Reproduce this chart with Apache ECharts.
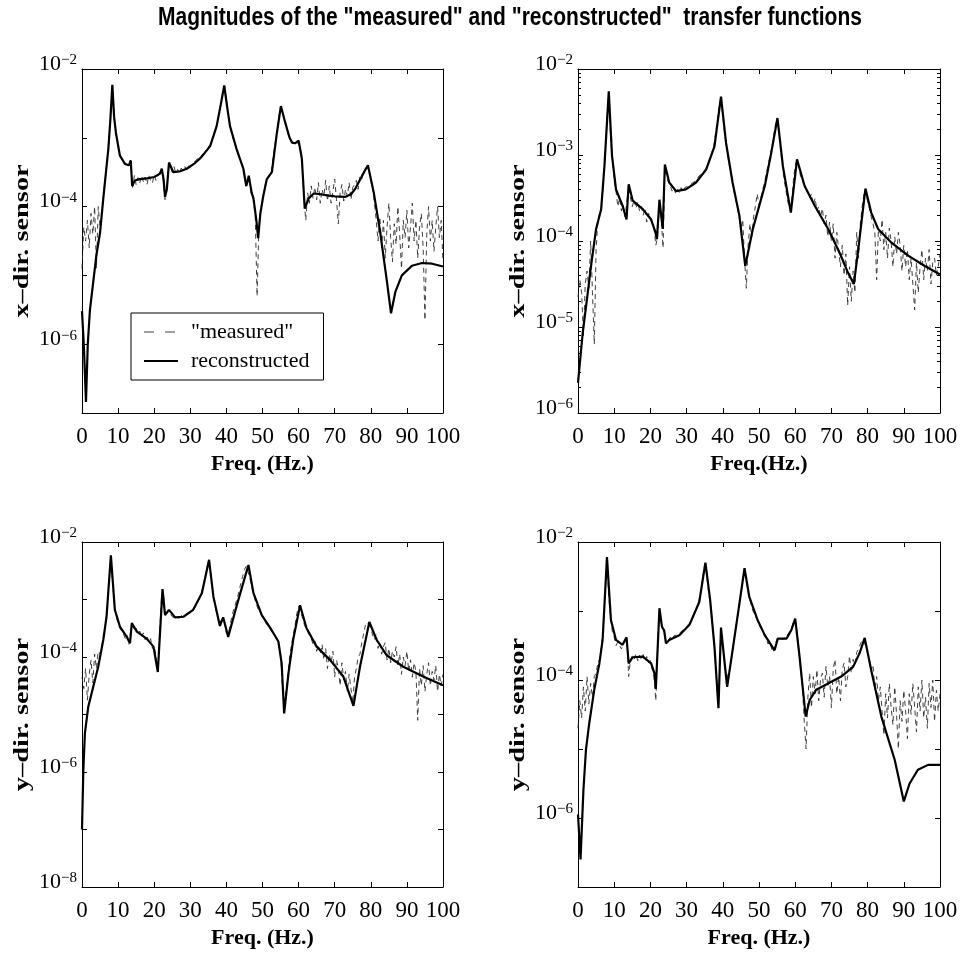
<!DOCTYPE html>
<html>
<head>
<meta charset="utf-8">
<title>Transfer functions</title>
<script src="https://cdn.jsdelivr.net/npm/echarts@6/dist/echarts.min.js"></script>
<style>
  html, body { margin: 0; padding: 0; background: #fff; }
  #chart { width: 962px; height: 959px; }
</style>
</head>
<body>
<div id="chart"></div>
<script>
'use strict';

// magnitudes are stored as log10(|H|)
// "measured" spectra: one value every 0.5 Hz from 0 to 100 Hz
var measStep = 0.5;

var measXTopLeft = [
  -4.9, -4.3, -4.5, -4.2, -4.6, -4.1, -4.4, -4.0, -4.9, -4.0, -4.3, -4.1, -3.82, -3.55, -3.3, -3.05, -2.6, -2.25, -2.75, -2.96,
  -3.12, -3.26, -3.31, -3.36, -3.38, -3.39, -3.40, -3.33, -3.72, -3.55, -3.68, -3.58, -3.66, -3.55, -3.64, -3.57, -3.68, -3.55, -3.62, -3.66,
  -3.54, -3.62, -3.56, -3.5, -3.45, -3.62, -3.9, -3.72, -3.38, -3.42, -3.5, -3.42, -3.52, -3.46, -3.5, -3.44, -3.48, -3.42, -3.46, -3.40,
  -3.43, -3.38, -3.40, -3.33, -3.34, -3.28, -3.29, -3.24, -3.22, -3.18, -3.14, -3.13, -3.03, -2.95, -2.87, -2.78, -2.65, -2.5, -2.33, -2.25,
  -2.45, -2.65, -2.83, -2.95, -3.04, -3.12, -3.2, -3.28, -3.35, -3.42, -3.55, -3.72, -3.6, -3.68, -3.85, -3.9, -4.15, -5.3, -4.3, -4.05,
  -3.9, -3.75, -3.62, -3.58, -3.52, -3.48, -3.25, -3.08, -2.92, -2.7, -2.55, -2.6, -2.72, -2.82, -2.93, -3.0, -3.06, -3.08, -3.08, -3.05,
  -3.04, -3.15, -3.4, -3.9, -4.2, -3.8, -3.95, -3.7, -3.88, -3.72, -3.9, -3.65, -3.95, -3.75, -3.85, -3.62, -3.92, -3.7, -3.95, -3.78,
  -3.6, -3.9, -4.25, -3.8, -3.68, -3.92, -3.75, -3.85, -3.65, -3.9, -3.72, -3.68, -3.62, -3.75, -3.55, -3.6, -3.5, -3.45, -3.42, -3.45,
  -3.62, -3.72, -3.95, -4.2, -4.5, -4.15, -4.6, -4.2, -4.75, -4.3, -3.95, -4.45, -4.8, -4.25, -4.55, -4.0, -4.4, -4.9, -4.2, -4.45,
  -4.05, -4.6, -4.3, -3.95, -4.5, -4.2, -4.75, -4.3, -4.1, -4.6, -5.65, -4.4, -4.0, -4.5, -4.2, -4.65, -4.3, -4.0, -4.45, -4.2, -4.8
];

var measXTopRight = [
  -4.65, -4.45, -4.6, -5.1, -4.5, -4.35, -4.55, -4.0, -4.6, -5.2, -4.1, -3.75, -3.75, -3.6, -3.35, -3.0, -2.6, -2.27, -2.8, -3.05,
  -3.3, -3.42, -3.6, -3.5, -3.65, -3.58, -3.72, -3.7, -3.36, -3.5, -3.6, -3.52, -3.62, -3.55, -3.65, -3.6, -3.7, -3.62, -3.78, -3.68,
  -3.75, -3.8, -3.85, -4.05, -3.95, -3.55, -3.75, -4.08, -3.15, -3.25, -3.32, -3.36, -3.42, -3.38, -3.45, -3.4, -3.44, -3.38, -3.43, -3.38,
  -3.4, -3.36, -3.38, -3.33, -3.34, -3.3, -3.29, -3.24, -3.25, -3.2, -3.2, -3.15, -3.1, -3.03, -2.97, -2.9, -2.75, -2.6, -2.42, -2.33,
  -2.55, -2.75, -2.9, -3.04, -3.16, -3.28, -3.4, -3.5, -3.6, -3.72, -3.88, -3.75, -4.2, -4.55, -4.05, -3.8, -3.95, -3.72, -3.6, -3.45,
  -3.58, -3.5, -3.4, -3.33, -3.22, -3.12, -3.02, -2.92, -2.8, -2.66, -2.58, -2.7, -2.95, -3.12, -3.3, -3.43, -3.55, -3.63, -3.55, -3.3,
  -3.12, -3.06, -3.15, -3.25, -3.3, -3.35, -3.4, -3.42, -3.5, -3.45, -3.58, -3.5, -3.65, -3.6, -3.72, -3.62, -3.8, -3.7, -3.95, -3.78,
  -4.0, -3.8, -4.2, -3.9, -4.1, -4.3, -4.05, -4.4, -4.15, -4.75, -4.3, -4.7, -4.35, -4.6, -3.9, -4.2, -3.8, -3.6, -3.45, -3.4,
  -3.55, -3.62, -3.72, -3.8, -3.9, -4.45, -3.85, -4.0, -3.75, -4.1, -3.9, -4.2, -3.85, -4.0, -4.3, -3.95, -4.15, -3.9, -4.05, -4.35,
  -4.05, -4.3, -4.1, -4.45, -4.2, -4.5, -4.8, -4.25, -4.6, -4.3, -4.1, -4.45, -4.2, -4.35, -4.1, -4.5, -4.25, -4.2, -4.4, -4.3, -4.15
];

var measYBottomLeft = [
  -4.35, -4.55, -4.2, -4.75, -4.3, -4.05, -4.45, -3.95, -4.2, -3.9, -3.95, -3.8, -3.65, -3.45, -3.1, -2.65, -2.25, -2.75, -3.1, -3.3,
  -3.42, -3.5, -3.55, -3.6, -3.68, -3.62, -3.78, -3.55, -3.45, -3.55, -3.5, -3.6, -3.55, -3.65, -3.58, -3.7, -3.62, -3.75, -3.68, -3.85,
  -3.8, -4.0, -4.25, -3.6, -3.0, -2.85, -3.25, -3.22, -3.2, -3.25, -3.3, -3.28, -3.33, -3.3, -3.32, -3.28, -3.3, -3.26, -3.27, -3.24,
  -3.22, -3.2, -3.16, -3.12, -3.05, -2.98, -2.9, -2.78, -2.65, -2.48, -2.33, -2.45, -2.78, -2.98, -3.15, -3.3, -3.42, -3.4, -3.32, -3.4,
  -3.58, -3.62, -3.45, -3.3, -3.18, -3.08, -2.98, -2.85, -2.72, -2.6, -2.48, -2.42, -2.42, -2.62, -2.78, -2.9, -3.02, -3.12, -3.2, -3.25,
  -3.3, -3.35, -3.42, -3.45, -3.5, -3.52, -3.6, -3.65, -3.7, -3.8, -3.95, -4.5, -4.85, -4.6, -4.35, -4.0, -3.8, -3.62, -3.45, -3.25,
  -3.12, -3.12, -3.3, -3.42, -3.5, -3.55, -3.62, -3.68, -3.78, -3.72, -3.9, -3.8, -3.95, -3.78, -4.05, -3.85, -4.2, -3.95, -4.1, -3.9,
  -4.35, -4.05, -4.2, -4.5, -4.1, -4.4, -4.25, -4.6, -4.3, -4.55, -4.8, -4.35, -4.2, -4.0, -3.95, -3.75, -3.6, -3.45, -3.4, -3.42,
  -3.5, -3.62, -3.7, -3.6, -3.85, -3.75, -3.95, -3.82, -3.75, -4.05, -3.85, -4.1, -3.9, -4.0, -3.82, -4.15, -3.95, -4.3, -4.0, -4.15,
  -3.9, -4.25, -4.05, -4.35, -4.1, -4.25, -5.1, -4.2, -4.5, -4.15, -4.6, -4.3, -4.1, -4.5, -4.25, -4.4, -4.15, -4.6, -4.3, -4.5, -4.3
];

var measYBottomRight = [
  -4.7, -4.3, -4.55, -4.1, -4.45, -3.95, -4.35, -4.05, -4.25, -3.95, -3.9, -3.75, -3.7, -3.5, -3.22, -2.75, -2.25, -2.8, -3.1, -3.3,
  -3.38, -3.5, -3.45, -3.5, -3.55, -3.48, -3.45, -3.38, -3.95, -3.7, -3.65, -3.7, -3.62, -3.72, -3.64, -3.7, -3.63, -3.72, -3.66, -3.75,
  -3.72, -3.85, -3.95, -4.3, -3.5, -2.98, -3.2, -3.26, -3.38, -3.45, -3.42, -3.38, -3.42, -3.36, -3.38, -3.34, -3.35, -3.3, -3.3, -3.25,
  -3.22, -3.2, -3.17, -3.12, -3.06, -3.0, -2.93, -2.83, -2.7, -2.5, -2.32, -2.45, -2.7, -2.88, -3.1, -3.4, -3.75, -4.2, -4.1, -3.26,
  -3.5, -3.78, -4.0, -3.99, -3.82, -3.64, -3.46, -3.27, -3.1, -2.93, -2.75, -2.56, -2.38, -2.55, -2.72, -2.84, -2.95, -3.02, -3.08, -3.12,
  -3.2, -3.24, -3.3, -3.36, -3.4, -3.48, -3.45, -3.55, -3.6, -3.48, -3.4, -3.42, -3.38, -3.42, -3.38, -3.4, -3.34, -3.3, -3.25, -3.16,
  -3.12, -3.3, -3.55, -3.85, -4.1, -4.6, -5.0, -4.25, -3.9, -4.4, -3.95, -4.2, -3.85, -4.3, -4.0, -3.9, -4.25, -3.8, -4.1, -3.95,
  -4.4, -3.85, -3.7, -4.2, -3.95, -4.3, -3.85, -3.75, -4.1, -3.95, -3.65, -3.9, -3.7, -3.78, -3.6, -3.55, -3.48, -3.42, -3.4, -3.5,
  -3.62, -3.7, -3.85, -3.78, -4.15, -3.95, -4.3, -4.1, -4.45, -4.8, -4.2, -4.55, -4.05, -4.4, -4.65, -4.1, -4.5, -5.0, -4.3, -4.6,
  -4.15, -4.45, -4.85, -4.2, -4.5, -4.05, -4.4, -4.75, -4.1, -4.45, -4.0, -4.55, -4.25, -4.7, -4.05, -4.4, -4.0, -4.6, -4.15, -4.45, -4.2
];

// reconstructed spectra: [freq (Hz), log10 magnitude]
var recXTopLeft = [
  [0, -5.52], [0.5, -6.0], [1.1, -6.84], [1.6, -6.0], [2.2, -5.5], [3.1, -5.1], [4, -4.7], [5, -4.38],
  [5.9, -3.88], [7.3, -3.16], [7.9, -2.7], [8.4, -2.23], [8.9, -2.7], [9.4, -2.93], [10.5, -3.26],
  [11.9, -3.38], [13, -3.4], [13.5, -3.33], [13.9, -3.7], [14.6, -3.62], [16, -3.6], [18, -3.59],
  [20, -3.57], [21.6, -3.52], [22.1, -3.45], [22.6, -3.6], [23, -3.86], [23.5, -3.75], [24.1, -3.36],
  [25.3, -3.5], [27, -3.49], [29, -3.45], [31, -3.38], [32.7, -3.3], [34, -3.22], [35.5, -3.12],
  [37.3, -2.83], [38.5, -2.5], [39.4, -2.24], [40.2, -2.55], [41, -2.83], [42.8, -3.16], [44.7, -3.45],
  [45.5, -3.7], [46.2, -3.55], [47, -3.8], [47.5, -3.88], [48.3, -4.2], [48.8, -4.46], [49.4, -4.1],
  [50.2, -3.85], [51.2, -3.6], [52.6, -3.5], [54, -2.92], [55.1, -2.54], [56.3, -2.78], [57.5, -3.0],
  [58.2, -3.07], [59, -3.08], [60, -3.04], [60.9, -3.3], [61.7, -4.03], [62.8, -3.88], [64.2, -3.81],
  [66, -3.82], [68.3, -3.84], [70, -3.85], [72.9, -3.86], [74.5, -3.82], [75.7, -3.74], [77.6, -3.55],
  [79.2, -3.4], [80.8, -3.79], [82.6, -4.37], [84.5, -5.1], [85.6, -5.55], [86.8, -5.24], [88.6, -5.0],
  [91.4, -4.86], [94.2, -4.82], [97, -4.83], [100, -4.87]
];

var recXTopRight = [
  [0, -5.65], [1.3, -5.07], [2.7, -4.6], [3.6, -4.29], [5, -3.86], [6.4, -3.63], [7.3, -3.13],
  [8.5, -2.26], [9.4, -3.01], [10.5, -3.4], [12.3, -3.59], [13.4, -3.75], [14, -3.34], [15.1, -3.53],
  [17.9, -3.63], [20.2, -3.75], [21.4, -3.9], [21.8, -3.98], [22.5, -3.52], [23.4, -3.86], [24, -3.11],
  [25.2, -3.32], [27.1, -3.42], [29.8, -3.4], [32.6, -3.32], [35.4, -3.17], [37.7, -2.9], [39.5, -2.32],
  [40.9, -2.86], [42.7, -3.32], [44.6, -3.71], [46.2, -4.29], [48.3, -3.86], [50, -3.6], [51.6, -3.36],
  [53.4, -2.97], [55.1, -2.57], [56.6, -3.13], [58.8, -3.67], [60.5, -3.05], [62.6, -3.36], [65.4, -3.59],
  [69.1, -3.86], [72.3, -4.14], [74.6, -4.37], [76.2, -4.5], [77.3, -4.14], [79.4, -3.39], [81, -3.67],
  [82.9, -3.86], [86.6, -4.02], [91.2, -4.17], [95.8, -4.29], [100, -4.39]
];

var recYBottomLeft = [
  [0, -7.0], [0.37, -5.97], [0.8, -5.33], [1.75, -4.86], [3.1, -4.52], [4.5, -4.17], [5.9, -3.7],
  [6.8, -3.3], [8, -2.23], [9.1, -3.18], [10.5, -3.47], [12.4, -3.65], [13.3, -3.76], [13.8, -3.41],
  [15.2, -3.56], [17.9, -3.68], [19.8, -3.82], [21, -4.26], [22.3, -2.82], [23, -3.27], [24.1, -3.18],
  [25.8, -3.31], [28.1, -3.3], [30.8, -3.18], [33.2, -2.89], [35.2, -2.31], [36.4, -2.95], [38.2, -3.46],
  [39.1, -3.31], [40.5, -3.65], [42.8, -3.12], [46.1, -2.4], [47.5, -2.89], [49.8, -3.27], [52.5, -3.53],
  [54.4, -3.73], [55.3, -4.11], [56, -4.98], [57.2, -4.28], [58.5, -3.7], [60.4, -3.1], [62.2, -3.5],
  [65, -3.82], [68.7, -4.05], [72.4, -4.34], [75.2, -4.85], [77, -4.17], [79.6, -3.39], [81.6, -3.7],
  [84.4, -3.97], [89, -4.17], [94.5, -4.34], [100, -4.49]
];

var recYBottomRight = [
  [0, -5.95], [0.7, -6.6], [1.5, -5.59], [2.2, -5.01], [3.1, -4.63], [4.5, -4.14], [5.9, -3.76],
  [6.8, -3.42], [8, -2.22], [9.1, -3.13], [10.5, -3.42], [12.3, -3.49], [13.4, -3.38], [14, -3.76],
  [15.1, -3.67], [17.9, -3.66], [20.2, -3.76], [21.1, -3.9], [21.5, -4.13], [22.5, -2.96], [23.2, -3.23],
  [23.8, -3.28], [24.3, -3.47], [25.2, -3.42], [28, -3.35], [30.8, -3.2], [33.5, -2.87], [35.2, -2.3],
  [36.5, -2.84], [37.7, -3.52], [38.8, -4.41], [39.5, -3.24], [41.2, -4.1], [42.7, -3.57], [44.6, -2.89],
  [46, -2.38], [47.3, -2.79], [49.6, -3.13], [51.6, -3.35], [54.3, -3.57], [55.2, -3.4], [57.6, -3.4],
  [58.9, -3.28], [60, -3.11], [61.2, -3.66], [62.9, -4.53], [64, -4.29], [65.8, -4.14], [69.1, -4.05],
  [72.7, -3.95], [76, -3.81], [77.8, -3.61], [79.2, -3.39], [81, -3.86], [83.8, -4.53], [87.5, -5.16],
  [90, -5.76], [91.6, -5.5], [93.9, -5.3], [96.7, -5.23], [100, -5.23]
];

// y extents as powers of ten
var yExpTopLeft = [-7, -2];
var yExpTopRight = [-6, -2];
var yExpBottomLeft = [-8, -2];
var yExpBottomRight = [-7, -2];

var freqTicks = [0, 100, 10];

var SERIF = '"Liberation Serif", "Times New Roman", serif';
var SANS = '"Liberation Sans", Arial, Helvetica, sans-serif';

var panels = [
  { meas: measXTopLeft, rec: recXTopLeft, yExp: yExpTopLeft, labelStep: 2, minor: false,
    yName: 'x\u2013dir. sensor', xName: 'Freq. (Hz.)',
    grid: { left: 82, top: 69, width: 361, height: 344 } },
  { meas: measXTopRight, rec: recXTopRight, yExp: yExpTopRight, labelStep: 1, minor: true,
    yName: 'x\u2013dir. sensor', xName: 'Freq.(Hz.)',
    grid: { left: 578, top: 69, width: 362, height: 344 } },
  { meas: measYBottomLeft, rec: recYBottomLeft, yExp: yExpBottomLeft, labelStep: 2, minor: false,
    yName: 'y\u2013dir. sensor', xName: 'Freq. (Hz.)',
    grid: { left: 82, top: 542, width: 361, height: 345 } },
  { meas: measYBottomRight, rec: recYBottomRight, yExp: yExpBottomRight, labelStep: 2, minor: false,
    yName: 'y\u2013dir. sensor', xName: 'Freq. (Hz.)',
    grid: { left: 578, top: 542, width: 362, height: 345 } }
];

var chart = echarts.init(document.getElementById('chart'));

function expLabel(step) {
  return function (v) {
    var e = Math.round(Math.log(v) / Math.LN10);
    if (e % step !== 0) {
      return '';
    }
    return '{b|10}{e|' + (e < 0 ? '\u2212' : '') + Math.abs(e) + '}';
  };
}

var axisLine = { show: true, onZero: false, lineStyle: { color: '#000', width: 1 } };
var tickIn = { show: true, inside: true, length: 5, lineStyle: { color: '#000' } };

var grids = [];
var xAxes = [];
var yAxes = [];
var series = [];
var graphics = [{
  type: 'text', x: 510, y: 18, scaleY: 1.25,
  style: {
    text: 'Magnitudes of the "measured" and "reconstructed"  transfer functions',
    font: 'bold 21px ' + SANS, fill: '#000',
    textAlign: 'center', textVerticalAlign: 'middle'
  }
}];

panels.forEach(function (p, i) {
  grids.push(p.grid);

  var xBase = {
    type: 'value', gridIndex: i,
    min: freqTicks[0], max: freqTicks[1], interval: freqTicks[2],
    axisLine: axisLine, axisTick: tickIn, splitLine: { show: false }
  };
  xAxes.push(Object.assign({}, xBase, {
    position: 'bottom',
    name: p.xName, nameLocation: 'middle', nameGap: 40,
    nameTextStyle: { fontFamily: SERIF, fontSize: 22, fontWeight: 'bold', color: '#000' },
    axisLabel: { fontFamily: SERIF, fontSize: 23, color: '#000', margin: 12 }
  }));
  xAxes.push(Object.assign({}, xBase, { position: 'top', axisLabel: { show: false } }));

  var yBase = {
    type: 'log', logBase: 10, gridIndex: i,
    min: Math.pow(10, p.yExp[0]), max: Math.pow(10, p.yExp[1]), interval: 1,
    axisLine: axisLine, axisTick: tickIn, splitLine: { show: false },
    minorTick: { show: p.minor, splitNumber: 9, length: 3, lineStyle: { color: '#000' } },
    minorSplitLine: { show: false }
  };
  yAxes.push(Object.assign({}, yBase, {
    position: 'left',
    axisLabel: {
      formatter: expLabel(p.labelStep), margin: 5, padding: [0, 0, 10, 0],
      rich: {
        b: { fontFamily: SERIF, fontSize: 22, lineHeight: 22, color: '#000', verticalAlign: 'bottom' },
        e: { fontFamily: SERIF, fontSize: 15, lineHeight: 22, color: '#000', verticalAlign: 'top', padding: [0, 0, 10, 0] }
      }
    }
  }));
  yAxes.push(Object.assign({}, yBase, { position: 'right', axisLabel: { show: false } }));

  // rotated y-axis caption, drawn tall and thin like the original print
  graphics.push({
    type: 'text',
    x: p.grid.left - 59, y: p.grid.top + p.grid.height / 2,
    rotation: Math.PI / 2, scaleX: 1.35,
    style: {
      text: p.yName, font: 'bold 21px ' + SERIF, fill: '#000',
      textAlign: 'center', textVerticalAlign: 'middle'
    }
  });

  series.push({
    name: '"measured"', type: 'line', xAxisIndex: 2 * i, yAxisIndex: 2 * i,
    symbol: 'none', silent: true, z: 2, color: '#2a2a2a',
    lineStyle: { color: '#2a2a2a', width: 0.9, type: [5, 4] },
    data: p.meas.map(function (e, k) { return [k * measStep, Math.pow(10, e)]; })
  });
  series.push({
    name: 'reconstructed', type: 'line', xAxisIndex: 2 * i, yAxisIndex: 2 * i,
    symbol: 'none', silent: true, z: 3, color: '#000',
    lineStyle: { color: '#000', width: 2.2 },
    data: p.rec.map(function (d) { return [d[0], Math.pow(10, d[1])]; })
  });
});

var option = {
  backgroundColor: '#fff',
  animation: false,
  graphic: graphics,
  legend: {
    data: [
      { name: '"measured"', lineStyle: { color: '#2a2a2a', width: 0.9, type: [10, 11] } },
      { name: 'reconstructed' }
    ],
    orient: 'vertical', left: 131, top: 313,
    itemWidth: 34, itemHeight: 14, itemGap: 7,
    padding: [8, 14, 8, 12],
    borderColor: '#000', borderWidth: 1, backgroundColor: '#fff',
    selectedMode: false,
    itemStyle: { opacity: 0 },
    textStyle: { fontFamily: SERIF, fontSize: 22, color: '#000', padding: [0, 0, 0, 8] }
  },
  grid: grids,
  xAxis: xAxes,
  yAxis: yAxes,
  series: series
};

chart.setOption(option);
</script>
</body>
</html>
